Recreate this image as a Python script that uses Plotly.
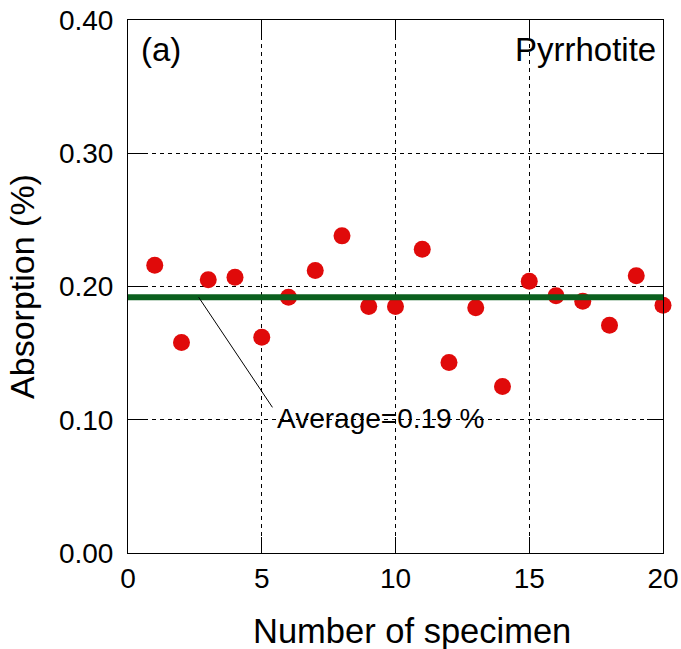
import plotly.graph_objects as go

specimen = list(range(1, 21))
absorption = [0.216, 0.158, 0.205, 0.207, 0.162, 0.192, 0.212, 0.238, 0.185, 0.185,
              0.228, 0.143, 0.184, 0.125, 0.204, 0.193, 0.189, 0.171, 0.208, 0.186]
average_value = 0.192
average_label = "Average=0.19 %"
x_ticks = [0, 5, 10, 15, 20]
y_ticks = [0.0, 0.1, 0.2, 0.3, 0.4]
y_tick_labels = ["0.00", "0.10", "0.20", "0.30", "0.40"]

FONT = "Arial, Liberation Sans, sans-serif"

fig = go.Figure()
fig.add_trace(go.Scatter(
    x=specimen, y=absorption, mode="markers",
    marker=dict(size=17, color="#e00a0a", line=dict(width=0)),
    cliponaxis=False, showlegend=False))
fig.add_trace(go.Scatter(
    x=[0, 20], y=[average_value, average_value], mode="lines",
    line=dict(color="#0a5f1e", width=6), showlegend=False))

# leader line from average line to label
fig.add_shape(type="line", xref="x", yref="y",
              x0=2.64, y0=average_value, x1=5.40, y1=0.1093,
              line=dict(color="black", width=1))
fig.add_annotation(x=5.51, y=0.101, xref="x", yref="y", text=average_label,
                   showarrow=False, xanchor="left", yanchor="middle",
                   font=dict(family=FONT, size=28, color="black"))
fig.add_annotation(x=0.02, y=0.945, xref="paper", yref="paper", text="(a)",
                   showarrow=False, xanchor="left", yanchor="middle",
                   font=dict(family=FONT, size=33, color="black"))
fig.add_annotation(x=0.99, y=0.945, xref="paper", yref="paper", text="Pyrrhotite",
                   showarrow=False, xanchor="right", yanchor="middle",
                   font=dict(family=FONT, size=33, color="black"))
# x-axis title (slightly right of centre, as in the original)
fig.add_annotation(x=0.531, y=-0.1455, xref="paper", yref="paper",
                   text="Number of specimen", showarrow=False,
                   xanchor="center", yanchor="middle",
                   font=dict(family=FONT, size=34.5, color="black"))

axis_common = dict(
    showline=True, linecolor="black", linewidth=1, mirror="allticks",
    ticks="inside", ticklen=16, tickwidth=1, tickcolor="black",
    showgrid=True, gridcolor="black", gridwidth=1, griddash="4px,4px",
    zeroline=False, tickfont=dict(family=FONT, size=28, color="black"),
    automargin=False,
)

fig.update_xaxes(range=[0, 20], tickvals=x_ticks, **axis_common)
fig.update_yaxes(range=[0, 0.4], tickvals=y_ticks, ticktext=y_tick_labels,
                 ticklabelstandoff=8,
                 title=dict(text="Absorption (%)", standoff=14,
                            font=dict(family=FONT, size=34, color="black")),
                 **axis_common)

fig.update_layout(
    width=681, height=649,
    margin=dict(l=128, r=18, t=20, b=96),
    plot_bgcolor="white", paper_bgcolor="white",
    font=dict(family=FONT, color="black"),
)

fig.write_html("out.html")
